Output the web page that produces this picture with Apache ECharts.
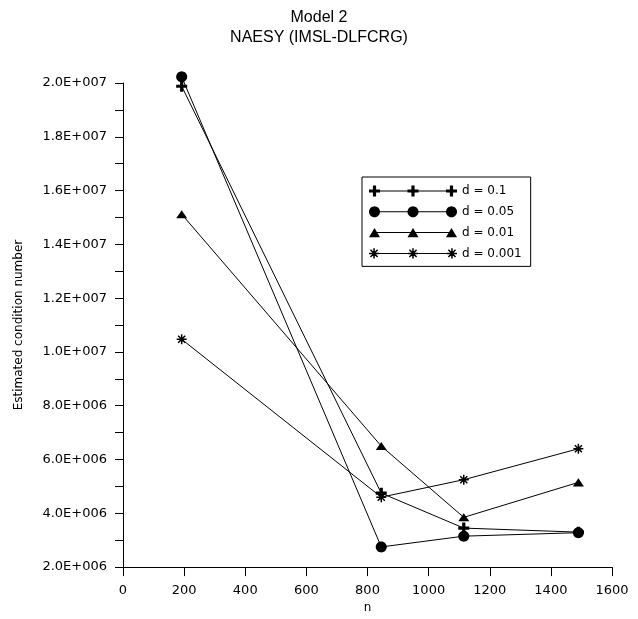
<!DOCTYPE html>
<html><head><meta charset="utf-8">
<script src="https://cdn.jsdelivr.net/npm/echarts@6/dist/echarts.min.js"></script>
<style>html,body{margin:0;padding:0;background:#fff}#c{width:638px;height:619px}</style>
</head><body><div id="c"></div>
<script>
// ---- data ----
const nValues = [192, 845, 1115, 1490];
const seriesNames = ['d = 0.1', 'd = 0.05', 'd = 0.01', 'd = 0.001'];
const d_0_1 = [1.988e7, 4.75e6, 3.45e6, 3.30e6];
const d_0_05 = [2.023e7, 2.75e6, 3.15e6, 3.28e6];
const d_0_01 = [1.512e7, 6.50e6, 3.85e6, 5.15e6];
const d_0_001 = [1.047e7, 4.60e6, 5.25e6, 6.40e6];
const xTicks = [0, 200, 400, 600, 800, 1000, 1200, 1400, 1600];
const yTicks = [2e6, 4e6, 6e6, 8e6, 1e7, 1.2e7, 1.4e7, 1.6e7, 1.8e7, 2e7];
const titleLines = ['Model 2', 'NAESY (IMSL-DLFCRG)'];
const xName = 'n';
const yName = 'Estimated condition number';

// ---- marker paths ----
function f(v){return (+v).toFixed(3);}
function rect(x0,y0,x1,y1){return `M${f(x0)},${f(y0)}L${f(x1)},${f(y0)}L${f(x1)},${f(y1)}L${f(x0)},${f(y1)}Z`;}
function poly(pts){return 'M'+pts.map(p=>f(p[0])+','+f(p[1])).join('L')+'Z';}
function marker(type, cx, cy){
  if(type==='plus'){const s=5.5,w=1.6;return rect(cx-s,cy-w,cx+s,cy+w)+rect(cx-w,cy-s,cx+w,cy+s);}
  if(type==='circle'){const r=5.5,pts=[];for(let i=0;i<36;i++){const t=i/36*Math.PI*2;pts.push([cx+r*Math.cos(t),cy+r*Math.sin(t)]);}return poly(pts);}
  if(type==='triangle'){const s=5.5,h=4.7;return poly([[cx-s,cy+h],[cx,cy-h],[cx+s,cy+h]]);}
  if(type==='star'){const s=5,w=0.75;let p='';[0,45,90,135].forEach(a=>{const r=a*Math.PI/180,c=Math.cos(r),sn=Math.sin(r);
    p+=poly([[-s,-w],[s,-w],[s,w],[-s,w]].map(([x,y])=>[cx+x*c-y*sn,cy+x*sn+y*c]));});return p;}
}
const markerTypes = ['plus','circle','triangle','star'];
const markerSizes = [[11,11],[11,11],[11,9.4],[10,10]];
function legendIcon(type){
  return 'path://' + rect(5.5,5,82.5,6) + marker(type,5.5,5.5) + marker(type,44,5.5) + marker(type,82.5,5.5);
}
function sci(v){
  const e=Math.floor(Math.log10(v)+1e-9);const m=v/Math.pow(10,e);
  return m.toFixed(1)+'E+'+String(e).padStart(3,'0');
}

const allData = [d_0_1, d_0_05, d_0_01, d_0_001];
const series = allData.map((arr,i)=>({
  name: seriesNames[i], type:'line', clip:false,
  data: nValues.map((n,j)=>[n,arr[j]]),
  symbol: 'path://'+marker(markerTypes[i],0,0), symbolSize: markerSizes[i], symbolKeepAspect:true,
  itemStyle:{color:'#000', borderWidth:0},
  lineStyle:{color:'#000', width:1},
  emphasis:{disabled:true}, animation:false
}));

const FONT = 'DejaVu Sans';
const chart = echarts.init(document.getElementById('c'), null, {renderer:'canvas'});
chart.setOption({
  backgroundColor:'#fff',
  animation:false,
  title:{text: titleLines.join('\n'), left:'center', top:3,
    textStyle:{fontFamily:'Liberation Sans', fontSize:16, fontWeight:'normal', color:'#000', lineHeight:20}},
  grid:{left:123, right:26, top:83, bottom:51, containLabel:false},
  legend:{orient:'vertical', left:362, top:177, padding:[8,9,7,7], itemGap:8.8,
    itemWidth:88, itemHeight:11, borderColor:'#000', borderWidth:1, selectedMode:false,
    textStyle:{fontFamily:FONT, fontSize:12, color:'#000'},
    itemStyle:{borderWidth:0},
    data: seriesNames.map((nm,i)=>({name:nm, icon: legendIcon(markerTypes[i])}))},
  xAxis:{type:'value', min:xTicks[0], max:xTicks[xTicks.length-1], interval:xTicks[1]-xTicks[0],
    name:xName, nameLocation:'middle', nameGap:34, nameTextStyle:{fontFamily:FONT, fontSize:12, color:'#000'},
    axisLine:{show:true, onZero:false, lineStyle:{color:'#000', width:1}},
    axisTick:{show:true, length:9, lineStyle:{color:'#000'}},
    axisLabel:{fontFamily:FONT, fontSize:13, color:'#000', margin:17, formatter:v=>String(v)},
    splitLine:{show:false}},
  yAxis:{type:'value', min:yTicks[0], max:yTicks[yTicks.length-1], interval:yTicks[1]-yTicks[0],
    name:yName, nameLocation:'middle', nameGap:98, nameRotate:90,
    nameTextStyle:{fontFamily:FONT, fontSize:12, color:'#000'},
    axisLine:{show:true, onZero:false, lineStyle:{color:'#000', width:1}},
    axisTick:{show:true, length:8, lineStyle:{color:'#000'}},
    minorTick:{show:true, splitNumber:2, length:8, lineStyle:{color:'#000'}},
    axisLabel:{fontFamily:FONT, fontSize:13, color:'#000', margin:16, formatter:v=>sci(v)},
    splitLine:{show:false}, minorSplitLine:{show:false}},
  series: series
});
</script></body></html>
